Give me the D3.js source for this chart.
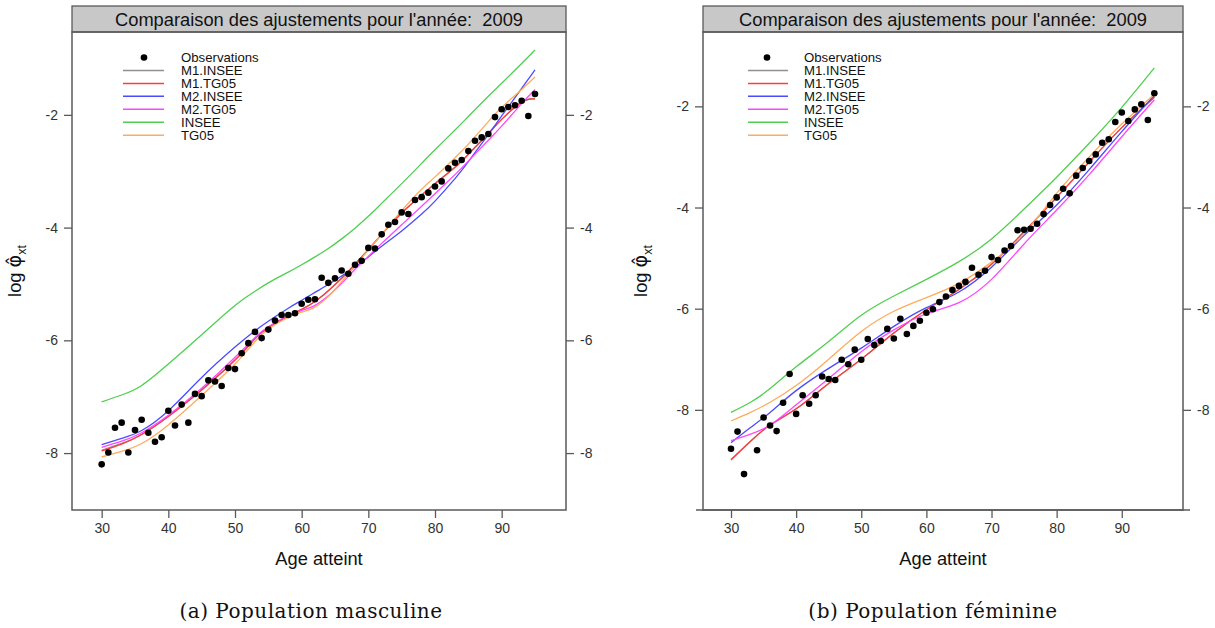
<!DOCTYPE html>
<html>
<head>
<meta charset="utf-8">
<script src="https://cdn.jsdelivr.net/npm/d3@7"></script>
<style>
  body { margin: 0; background: #fff; }
  svg { display: block; }
</style>
</head>
<body>
<svg id="chart" width="1215" height="628"></svg>
<script>
// ---- Data -------------------------------------------------------------
const ages = d3.range(30, 96);               // 30 .. 95
const xTicks = [30, 40, 50, 60, 70, 80, 90];
const yTicks = [-8, -6, -4, -2];
const titleText = "Comparaison des ajustements pour l'année:  2009";
const seriesNames = ["M1.INSEE", "M1.TG05", "M2.INSEE", "M2.TG05", "INSEE", "TG05"];
const seriesColors = ["#8f8f8f", "#ff3c3c", "#4b4bff", "#ff45ff", "#4fcf4f", "#ffab5c"];

// Observed log mortality, men (ages 30..95)
const menObserved = [
  -8.20, -7.99, -7.55, -7.46, -7.99, -7.59, -7.41, -7.64, -7.80, -7.72,
  -7.25, -7.51, -7.14, -7.46, -6.95, -6.99, -6.71, -6.73, -6.81, -6.49,
  -6.51, -6.23, -6.05, -5.85, -5.96, -5.81, -5.65, -5.55, -5.55, -5.52,
  -5.35, -5.28, -5.27, -4.89, -4.98, -4.90, -4.76, -4.82, -4.66, -4.59,
  -4.36, -4.37, -4.12, -3.95, -3.90, -3.73, -3.76, -3.51, -3.46, -3.38,
  -3.27, -3.18, -2.95, -2.85, -2.80, -2.64, -2.46, -2.40, -2.34, -2.04,
  -1.90, -1.86, -1.83, -1.75, -2.02, -1.63
];

// Observed log mortality, women (ages 30..95; no value at 33)
const womenObserved = [
  -8.77, -8.43, -9.27, null, -8.80, -8.15, -8.31, -8.42, -7.86, -7.29,
  -8.08, -7.71, -7.88, -7.71, -7.34, -7.39, -7.41, -7.01, -7.10, -6.81,
  -7.01, -6.60, -6.72, -6.64, -6.40, -6.59, -6.20, -6.50, -6.34, -6.24,
  -6.08, -6.01, -5.87, -5.76, -5.63, -5.55, -5.47, -5.19, -5.33, -5.25,
  -4.98, -5.04, -4.85, -4.76, -4.45, -4.44, -4.42, -4.32, -4.13, -3.95,
  -3.80, -3.63, -3.72, -3.37, -3.22, -3.08, -2.95, -2.72, -2.65, -2.31,
  -2.12, -2.29, -2.06, -1.96, -2.27, -1.74
];

// Fitted curves, men
const menFitAges = [30, 33, 36, 40, 45, 50, 53, 55, 58, 60, 62, 64, 66, 68, 70, 72, 75, 78, 80, 83, 85, 88, 90, 93, 95];
const menM1Insee = [-7.95, -7.83, -7.67, -7.35, -6.88, -6.35, -5.97, -5.77, -5.57, -5.45, -5.31, -5.12, -4.90, -4.65, -4.39, -4.12, -3.74, -3.42, -3.22, -2.93, -2.70, -2.33, -2.08, -1.78, -1.71];
const menM1Tg05  = [-7.96, -7.84, -7.67, -7.35, -6.88, -6.35, -5.97, -5.77, -5.57, -5.45, -5.31, -5.12, -4.90, -4.65, -4.39, -4.12, -3.74, -3.42, -3.22, -2.93, -2.70, -2.33, -2.08, -1.77, -1.72];
const menM2Insee = [-7.85, -7.74, -7.60, -7.25, -6.66, -6.12, -5.83, -5.66, -5.43, -5.29, -5.15, -5.01, -4.86, -4.70, -4.52, -4.33, -4.06, -3.76, -3.53, -3.13, -2.83, -2.35, -2.02, -1.53, -1.20];
const menM2Tg05  = [-7.90, -7.79, -7.64, -7.33, -6.85, -6.30, -5.95, -5.76, -5.56, -5.47, -5.38, -5.21, -4.99, -4.74, -4.51, -4.28, -3.95, -3.62, -3.40, -3.06, -2.82, -2.45, -2.20, -1.80, -1.55];
const menInsee   = [-7.09, -6.97, -6.80, -6.42, -5.90, -5.38, -5.13, -4.98, -4.79, -4.66, -4.52, -4.37, -4.20, -4.01, -3.80, -3.57, -3.22, -2.86, -2.62, -2.27, -2.03, -1.67, -1.44, -1.09, -0.85];
const menTg05    = [-8.07, -7.97, -7.83, -7.50, -6.98, -6.42, -6.02, -5.80, -5.59, -5.50, -5.41, -5.22, -4.96, -4.68, -4.40, -4.12, -3.70, -3.32, -3.10, -2.76, -2.52, -2.12, -1.87, -1.55, -1.33];

// Fitted curves, women
const womenFitAges = [30, 33, 36, 40, 45, 50, 55, 60, 65, 70, 75, 80, 85, 90, 95];
const womenM1Insee = [-8.98, -8.62, -8.30, -7.98, -7.48, -7.00, -6.48, -6.02, -5.62, -5.12, -4.48, -3.80, -3.10, -2.42, -1.82];
const womenM1Tg05  = [-8.99, -8.62, -8.30, -7.98, -7.48, -7.00, -6.48, -6.02, -5.62, -5.12, -4.48, -3.80, -3.10, -2.42, -1.82];
const womenM2Insee = [-8.65, -8.35, -8.05, -7.62, -7.18, -6.78, -6.35, -5.98, -5.67, -5.18, -4.55, -3.95, -3.25, -2.50, -1.78];
const womenM2Tg05  = [-8.61, -8.48, -8.30, -7.90, -7.38, -6.85, -6.42, -6.10, -5.88, -5.42, -4.72, -4.05, -3.35, -2.60, -1.87];
const womenInsee   = [-8.05, -7.85, -7.58, -7.15, -6.65, -6.13, -5.75, -5.42, -5.07, -4.62, -4.03, -3.40, -2.73, -2.02, -1.24];
const womenTg05    = [-8.22, -8.05, -7.85, -7.52, -7.00, -6.45, -6.05, -5.78, -5.50, -5.08, -4.52, -3.72, -3.00, -2.35, -1.76];

// ---- Drawing ----------------------------------------------------------
const SANS = "'Liberation Sans', Arial, Helvetica, sans-serif";
const SERIF = "'DejaVu Serif', 'Liberation Serif', serif";
const FRAME = "#5a5a5a";
const svg = d3.select("#chart");

const panels = [
  {
    id: "men",
    left: 72, right: 566, top: 32, bottom: 510, stripTop: 6,
    xDomain: [25.55, 99.65], yDomain: [-9.01, -0.53],
    observed: menObserved,
    fitAges: menFitAges,
    fits: [menM1Insee, menM1Tg05, menM2Insee, menM2Tg05, menInsee, menTg05],
    legend: { point: 144, lineFrom: 123, lineTo: 164, label: 181, top: 57.5, step: 12.95 },
    ylabX: 21, axisOverhang: 0,
    caption: "(a) Population masculine", captionX: 311
  },
  {
    id: "women",
    left: 703, right: 1183, top: 32, bottom: 510, stripTop: 6,
    xDomain: [25.7, 99.4], yDomain: [-9.98, -0.53],
    observed: womenObserved,
    fitAges: womenFitAges,
    fits: [womenM1Insee, womenM1Tg05, womenM2Insee, womenM2Tg05, womenInsee, womenTg05],
    legend: { point: 767, lineFrom: 748, lineTo: 788, label: 804, top: 57.5, step: 12.95 },
    ylabX: 647, axisOverhang: 7,
    caption: "(b) Population féminine", captionX: 933
  }
];

panels.forEach(p => {
  const g = svg.append("g").attr("class", "panel-" + p.id);
  const x = d3.scaleLinear().domain(p.xDomain).range([p.left, p.right]);
  const y = d3.scaleLinear().domain(p.yDomain).range([p.bottom, p.top]);

  // clip region for the plotted data
  const clipId = "clip-" + p.id;
  svg.append("defs").append("clipPath").attr("id", clipId)
    .append("rect")
    .attr("x", p.left).attr("y", p.top)
    .attr("width", p.right - p.left).attr("height", p.bottom - p.top);

  // strip with title
  g.append("rect")
    .attr("x", p.left).attr("y", p.stripTop)
    .attr("width", p.right - p.left).attr("height", p.top - p.stripTop)
    .attr("fill", "#c8c8c8").attr("stroke", FRAME).attr("stroke-width", 1.3);
  g.append("text")
    .attr("x", (p.left + p.right) / 2).attr("y", (p.stripTop + p.top) / 2 + 6.5)
    .attr("text-anchor", "middle")
    .attr("font-family", SANS).attr("font-size", 18.3).attr("fill", "#111")
    .style("white-space", "pre")
    .text(titleText);

  // fitted curves (smooth spline through the fitted values)
  const line = d3.line()
    .x(d => x(d[0])).y(d => y(d[1]))
    .curve(d3.curveNatural);
  const plot = g.append("g").attr("clip-path", `url(#${clipId})`);
  p.fits.forEach((vals, i) => {
    plot.append("path")
      .datum(p.fitAges.map((a, k) => [a, vals[k]]))
      .attr("d", line)
      .attr("fill", "none")
      .attr("stroke", seriesColors[i])
      .attr("stroke-width", 1.3);
  });

  // observations
  const obs = ages.map((a, k) => [a, p.observed[k]]).filter(d => d[1] !== null);
  plot.selectAll("circle.obs").data(obs).enter().append("circle")
    .attr("class", "obs")
    .attr("cx", d => x(d[0])).attr("cy", d => y(d[1]))
    .attr("r", 3.3).attr("fill", "#000");

  // frame
  g.append("rect")
    .attr("x", p.left).attr("y", p.top)
    .attr("width", p.right - p.left).attr("height", p.bottom - p.top)
    .attr("fill", "none").attr("stroke", FRAME).attr("stroke-width", 1.5);
  if (p.axisOverhang) {
    g.append("line")
      .attr("x1", p.left - p.axisOverhang).attr("x2", p.right + p.axisOverhang)
      .attr("y1", p.bottom).attr("y2", p.bottom)
      .attr("stroke", FRAME).attr("stroke-width", 1.5);
  }

  // axes
  const styleAxis = sel => {
    sel.select(".domain").remove();
    sel.selectAll(".tick line").attr("stroke", FRAME).attr("stroke-width", 1.3);
    sel.selectAll(".tick text")
      .attr("font-family", SANS).attr("font-size", 14).attr("fill", "#333");
  };
  const fmt = d => String(d);
  g.append("g").attr("transform", `translate(${p.left},0)`)
    .call(d3.axisLeft(y).tickValues(yTicks).tickFormat(fmt).tickSize(8).tickPadding(6))
    .call(styleAxis);
  g.append("g").attr("transform", `translate(${p.right},0)`)
    .call(d3.axisRight(y).tickValues(yTicks).tickFormat(fmt).tickSize(8).tickPadding(6))
    .call(styleAxis);
  g.append("g").attr("transform", `translate(0,${p.bottom})`)
    .call(d3.axisBottom(x).tickValues(xTicks).tickFormat(fmt).tickSize(8).tickPadding(5))
    .call(styleAxis);

  // axis titles
  g.append("text")
    .attr("x", (p.left + p.right) / 2).attr("y", 565)
    .attr("text-anchor", "middle")
    .attr("font-family", SANS).attr("font-size", 18.3).attr("fill", "#111")
    .text("Age atteint");
  const yl = g.append("text")
    .attr("transform", `translate(${p.ylabX},${(p.top + p.bottom) / 2}) rotate(-90)`)
    .attr("text-anchor", "middle")
    .attr("font-family", SANS).attr("font-size", 18.3).attr("fill", "#111");
  yl.append("tspan").text("log ");
  yl.append("tspan").attr("font-family", "'DejaVu Sans', sans-serif").attr("font-size", 19).text("\u03C6\u0302");
  yl.append("tspan").attr("font-size", 12.5).attr("dy", 5).text("xt");

  // legend
  const L = p.legend;
  const lg = g.append("g");
  lg.append("circle").attr("cx", L.point).attr("cy", L.top).attr("r", 3.3).attr("fill", "#000");
  lg.append("text").attr("x", L.label).attr("y", L.top + 4.6)
    .attr("font-family", SANS).attr("font-size", 13.2).attr("fill", "#111")
    .text("Observations");
  seriesNames.forEach((name, i) => {
    const yy = L.top + (i + 1) * L.step;
    lg.append("line")
      .attr("x1", L.lineFrom).attr("x2", L.lineTo).attr("y1", yy).attr("y2", yy)
      .attr("stroke", seriesColors[i]).attr("stroke-width", 1.5);
    lg.append("text").attr("x", L.label).attr("y", yy + 4.6)
      .attr("font-family", SANS).attr("font-size", 13.2).attr("fill", "#111")
      .text(name);
  });

  // caption
  svg.append("text")
    .attr("x", p.captionX).attr("y", 618)
    .attr("text-anchor", "middle")
    .attr("font-family", SERIF).attr("font-size", 20).attr("letter-spacing", 0.5)
    .attr("fill", "#111")
    .text(p.caption);
});
</script>
</body>
</html>
